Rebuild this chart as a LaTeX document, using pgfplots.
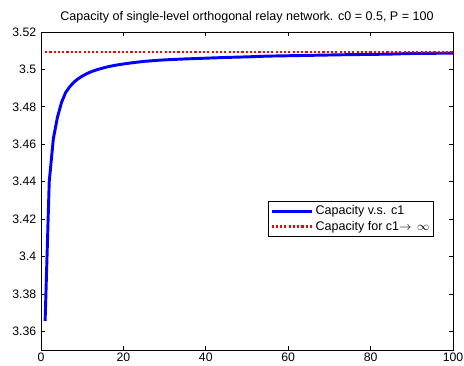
\documentclass[border=0pt]{standalone}
\usepackage{pgfplots}
\pgfplotsset{compat=1.18}
\usepackage{fontspec}
\setmainfont{Liberation Sans}
\begin{document}
\begin{tikzpicture}[x=0.75pt,y=0.75pt]
\useasboundingbox (-41,-16) rectangle (423,350);
\begin{axis}[
  at={(0,0)}, anchor=south west,
  scale only axis,
  width=309pt, height=238.5pt,
  xmin=0, xmax=100, ymin=3.35, ymax=3.52,
  xtick={0,20,40,60,80,100},
  ytick={3.36,3.38,3.4,3.42,3.44,3.46,3.48,3.5,3.52},
  xtick pos=both, ytick pos=both,
  tick align=inside,
  major tick length=3pt,
  tick style={black, line width=0.5pt},
  axis line style={black, line width=0.6pt},
  ticklabel style={font=\fontsize{9.2}{10}\selectfont},
  xticklabel style={yshift=1pt},
  /pgf/number format/assume math mode=true,
  yticklabel style={/pgf/number format/fixed, /pgf/number format/precision=2},
  title={Capacity of single-level orthogonal relay network. c0 = 0.5, P = 100},
  title style={font=\fontsize{9.4}{10}\selectfont, yshift=-3pt},
  legend style={at={(0.954,0.412)}, anchor=east, draw=black, line width=0.6pt,
    font=\fontsize{9.4}{10}\selectfont, row sep=-1pt, inner sep=1.2pt},
  legend cell align=left,
  legend image code/.code={\draw[#1] (0pt,0pt) -- (30pt,0pt);},
]
\addplot[blue, line width=2.2pt] coordinates {
(1,3.3655) (2,3.4400) (3,3.4630) (4,3.4745) (5,3.4825) (6,3.4877) (7,3.4908) (8,3.4932)
(9,3.4950) (10,3.4964) (11,3.4976) (12,3.4986) (13,3.4994) (14,3.5001) (15,3.5007)
(16,3.5013) (18,3.5022) (20,3.5029) (22,3.5035) (25,3.5043) (28,3.5048) (30,3.5051)
(35,3.5056) (40,3.5060) (45,3.5064) (50,3.5067) (55,3.5071) (60,3.5073) (65,3.5075)
(70,3.5077) (75,3.5079) (80,3.5080) (85,3.5082) (88,3.5084) (90,3.5085) (95,3.5086) (100,3.5087)
};
\addlegendentry{Capacity v.s. c1}
\addplot[red, line width=1.6pt, dash pattern=on 1.6pt off 1.6pt] coordinates {
(1,3.5092) (100,3.5092)
};
\addlegendentry{Capacity for c1$\rightarrow\,\infty$}
\end{axis}
\end{tikzpicture}
\end{document}
